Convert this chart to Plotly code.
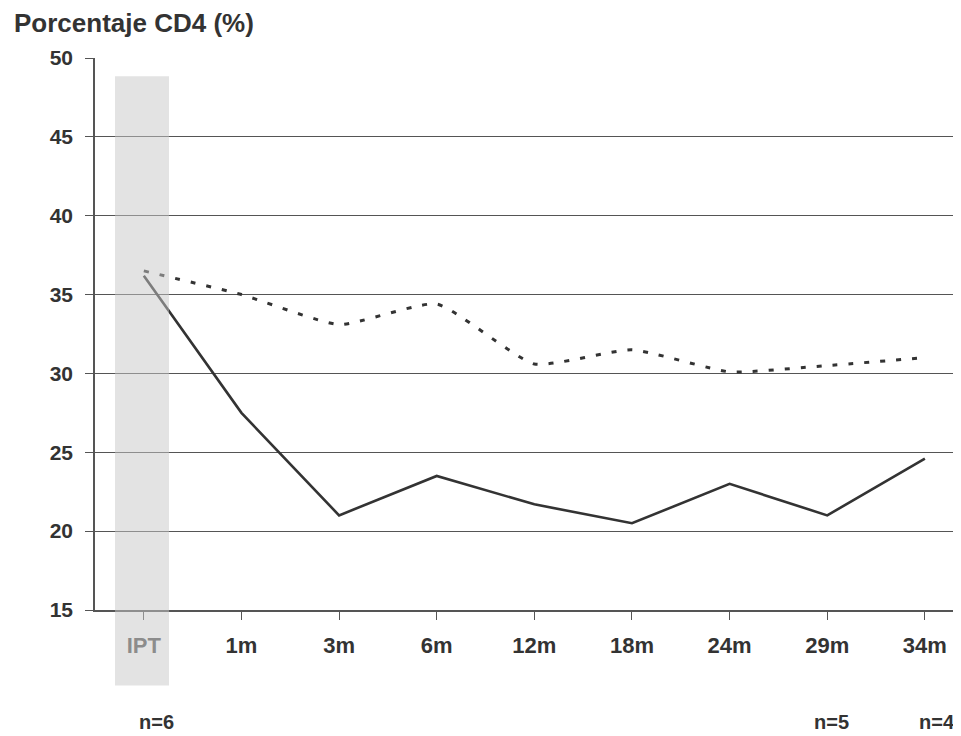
import plotly.graph_objects as go

categories = ["IPT", "1m", "3m", "6m", "12m", "18m", "24m", "29m", "34m"]
solid_vals = [36.2, 27.5, 21.0, 23.5, 21.7, 20.5, 23.0, 21.0, 24.6]
dotted_vals = [36.5, 35.0, 33.1, 34.4, 30.6, 31.5, 30.1, 30.5, 31.0]
n_labels = {"IPT": "n=6", "29m": "n=5", "34m": "n=4"}
y_ticks = [15, 20, 25, 30, 35, 40, 45, 50]

font_name = "Liberation Sans, Arial, sans-serif"
dark = "#333333"

xs = list(range(len(categories)))
tick_text = ["<span style='color:#505050'>IPT</span>"] + categories[1:]
n_shift = {"IPT": 0.13, "29m": 0.04, "34m": 0.12}

fig = go.Figure()
fig.add_trace(go.Scatter(x=xs, y=dotted_vals, mode="lines",
                         line=dict(color=dark, width=3, dash="5px,11px", shape="spline", smoothing=0.5),
                         showlegend=False, hoverinfo="skip"))
fig.add_trace(go.Scatter(x=xs, y=solid_vals, mode="lines",
                         line=dict(color=dark, width=2.6),
                         showlegend=False, hoverinfo="skip"))

# grey band over the IPT column, reaching below the axis
fig.add_shape(type="rect", xref="x", yref="paper", x0=-0.295, x1=0.258, y0=-0.137, y1=0.967,
              fillcolor="rgba(200,200,200,0.5)", line_width=0, layer="above")

fig.add_annotation(text="<b>Porcentaje CD4 (%)</b>", xref="paper", yref="paper", x=-0.096, y=1.063,
                   xanchor="left", yanchor="middle", showarrow=False,
                   font=dict(family=font_name, size=26, color=dark))

for cat, lab in n_labels.items():
    fig.add_annotation(text="<b>" + lab + "</b>", xref="x", yref="paper", x=categories.index(cat) + n_shift[cat],
                       y=-0.203, xanchor="center", yanchor="middle", showarrow=False,
                       font=dict(family=font_name, size=20, color=dark))

fig.update_xaxes(range=[-0.5, 8.37], tickmode="array", tickvals=xs, ticktext=tick_text,
                 showgrid=False, showline=True, linecolor="#555555", linewidth=1.5,
                 ticks="outside", ticklen=8, tickcolor="#555555", tickson="boundaries",
                 ticklabelstandoff=7, zeroline=False, automargin=False,
                 tickfont=dict(family=font_name, size=22, color=dark, weight="bold"), fixedrange=True)
fig.update_yaxes(range=[15, 50], tickmode="array", tickvals=y_ticks,
                 showgrid=True, gridcolor="#555555", gridwidth=1,
                 showline=True, linecolor="#555555", linewidth=1.5,
                 ticks="outside", ticklen=8, tickcolor="#555555", zeroline=False,
                 ticklabelstandoff=8, automargin=False,
                 tickfont=dict(family=font_name, size=21, color=dark, weight="bold"), fixedrange=True)

# the page body adds 8px around the figure, so size it to fill the window
fig.update_layout(width=953, height=728, margin=dict(l=87, r=0, t=50, b=126, autoexpand=False),
                  plot_bgcolor="white", paper_bgcolor="white",
                  font=dict(family=font_name, color=dark))

fig.write_html("out.html")
